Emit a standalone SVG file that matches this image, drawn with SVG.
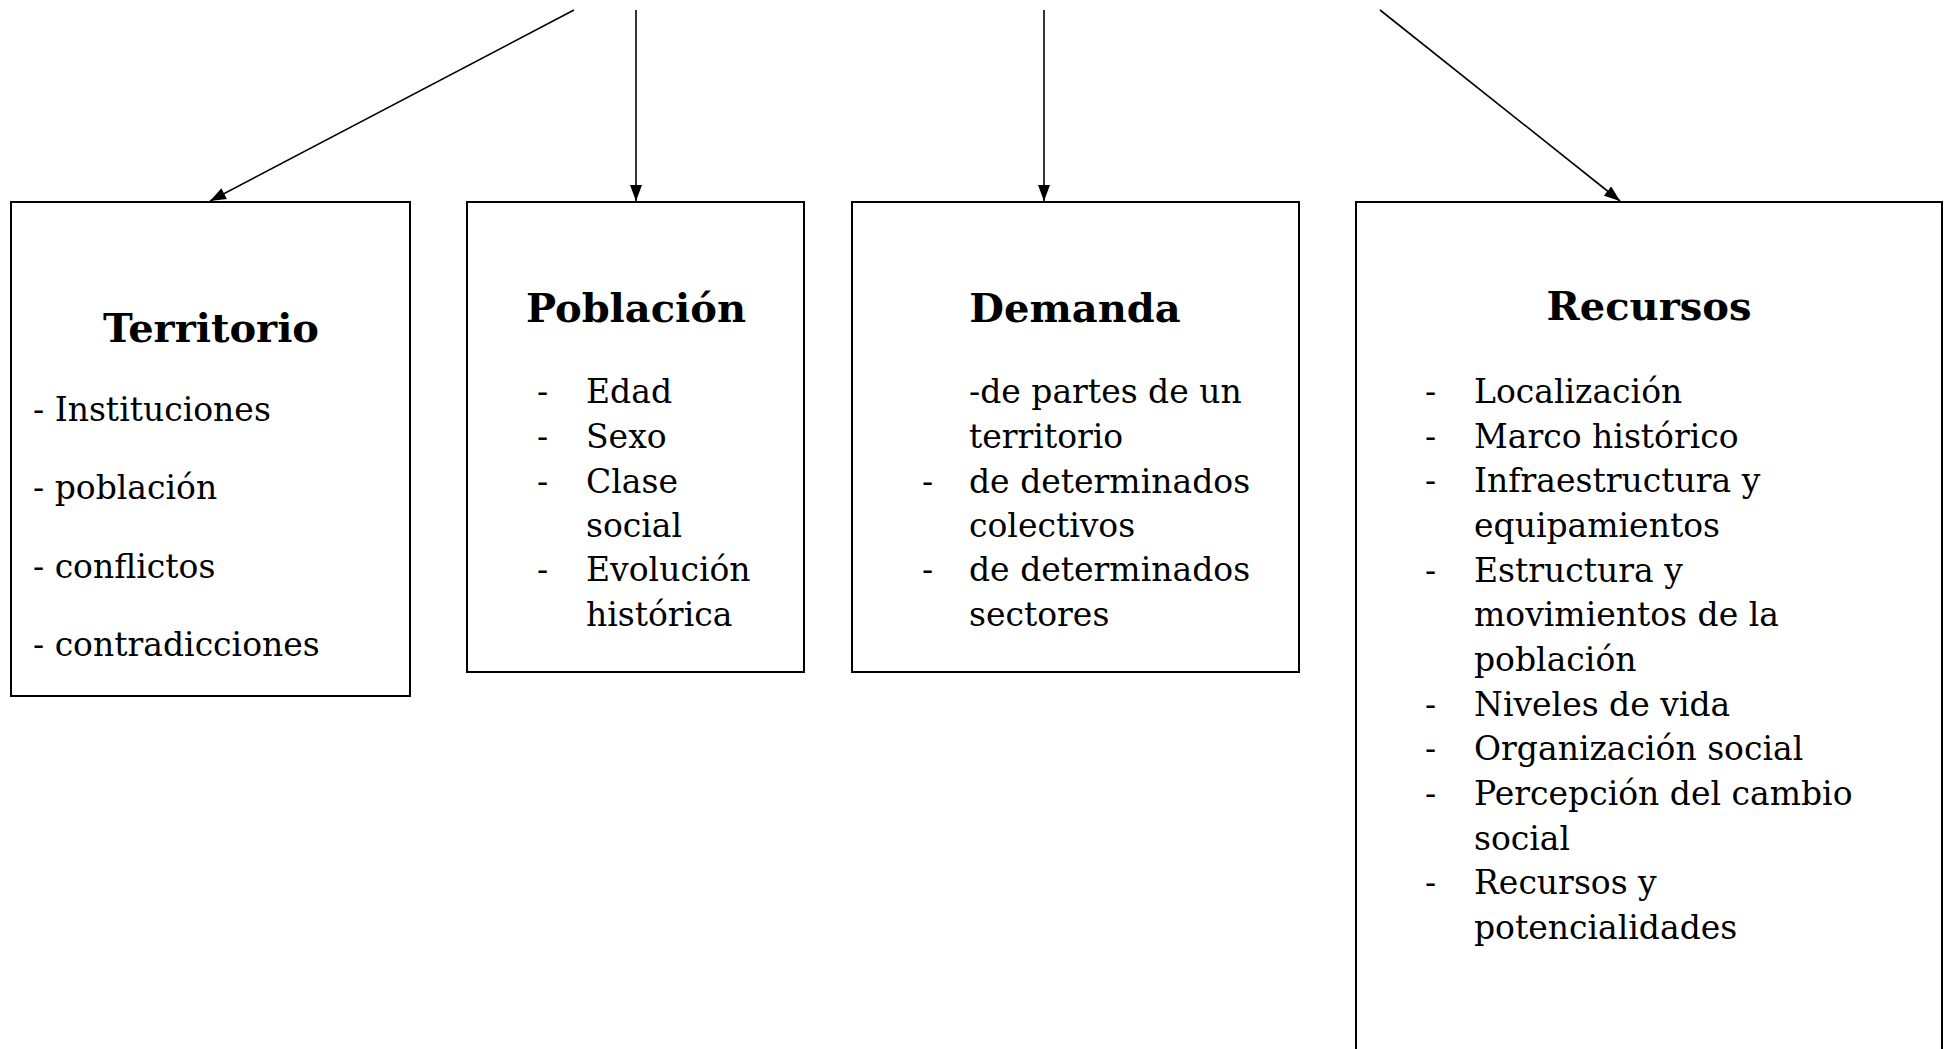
<svg xmlns="http://www.w3.org/2000/svg" width="1948" height="1049" viewBox="0 0 1948 1049">
<style>
.box{fill:#fff;stroke:#000;stroke-width:2}
.conn{stroke:#000;stroke-width:1.6;fill:none}
.t{font-family:"DejaVu Serif","Liberation Serif",serif;font-weight:bold;font-size:40px;fill:#000;text-anchor:middle}
.b{font-family:"DejaVu Serif","Liberation Serif",serif;font-size:33px;fill:#000}
</style>
<defs>
<marker id="ah" markerWidth="16" markerHeight="12" refX="16" refY="6" orient="auto" markerUnits="userSpaceOnUse">
<path d="M0,0 L16,6 L0,12 Z" fill="#000"/>
</marker>
</defs>
<rect width="1948" height="1049" fill="#fff"/>
<g id="connectors">
<line class="conn" x1="574" y1="10" x2="210" y2="201" marker-end="url(#ah)"/>
<line class="conn" x1="636" y1="10" x2="636" y2="201" marker-end="url(#ah)"/>
<line class="conn" x1="1044" y1="10" x2="1044" y2="201" marker-end="url(#ah)"/>
<line class="conn" x1="1380" y1="10" x2="1620" y2="201" marker-end="url(#ah)"/>
</g>
<g id="territorio">
<rect class="box" x="11" y="202" width="399" height="494"/>
<text class="t" x="211" y="342">Territorio</text>
<text class="b" x="33" y="421">- Instituciones</text>
<text class="b" x="33" y="499">- población</text>
<text class="b" x="33" y="578">- conflictos</text>
<text class="b" x="33" y="656">- contradicciones</text>
</g>
<g id="poblacion">
<rect class="box" x="467" y="202" width="337" height="470"/>
<text class="t" x="636" y="322">Población</text>
<text class="b" x="537" y="403">-</text><text class="b" x="586" y="403">Edad</text>
<text class="b" x="537" y="448">-</text><text class="b" x="586" y="448">Sexo</text>
<text class="b" x="537" y="493">-</text><text class="b" x="586" y="493">Clase</text>
<text class="b" x="586" y="537">social</text>
<text class="b" x="537" y="581">-</text><text class="b" x="586" y="581">Evolución</text>
<text class="b" x="586" y="626">histórica</text>
</g>
<g id="demanda">
<rect class="box" x="852" y="202" width="447" height="470"/>
<text class="t" x="1075" y="322">Demanda</text>
<text class="b" x="969" y="403">-de partes de un</text>
<text class="b" x="969" y="448">territorio</text>
<text class="b" x="922" y="493">-</text><text class="b" x="969" y="493">de determinados</text>
<text class="b" x="969" y="537">colectivos</text>
<text class="b" x="922" y="581">-</text><text class="b" x="969" y="581">de determinados</text>
<text class="b" x="969" y="626">sectores</text>
</g>
<g id="recursos">
<rect class="box" x="1356" y="202" width="586" height="870"/>
<text class="t" x="1649" y="320">Recursos</text>
<text class="b" x="1425" y="403">-</text><text class="b" x="1474" y="403">Localización</text>
<text class="b" x="1425" y="448">-</text><text class="b" x="1474" y="448">Marco histórico</text>
<text class="b" x="1425" y="492">-</text><text class="b" x="1474" y="492">Infraestructura y</text>
<text class="b" x="1474" y="537">equipamientos</text>
<text class="b" x="1425" y="582">-</text><text class="b" x="1474" y="582">Estructura y</text>
<text class="b" x="1474" y="626">movimientos de la</text>
<text class="b" x="1474" y="671">población</text>
<text class="b" x="1425" y="716">-</text><text class="b" x="1474" y="716">Niveles de vida</text>
<text class="b" x="1425" y="760">-</text><text class="b" x="1474" y="760">Organización social</text>
<text class="b" x="1425" y="805">-</text><text class="b" x="1474" y="805">Percepción del cambio</text>
<text class="b" x="1474" y="850">social</text>
<text class="b" x="1425" y="894">-</text><text class="b" x="1474" y="894">Recursos y</text>
<text class="b" x="1474" y="939">potencialidades</text>
</g>
</svg>
